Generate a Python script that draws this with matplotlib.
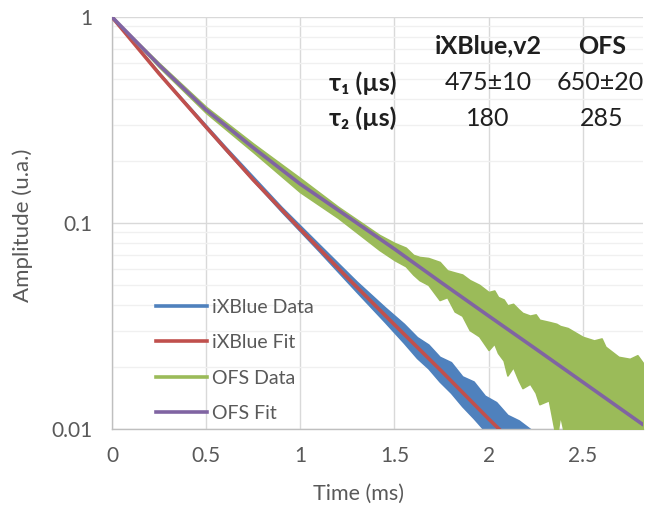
import matplotlib
matplotlib.use("Agg")
import matplotlib.pyplot as plt
from matplotlib.lines import Line2D
from matplotlib.ticker import LogLocator, FixedLocator, NullFormatter

plt.rcParams['font.family'] = ['Lato', 'DejaVu Sans']

# iXBlue fit
t_ix_fit = [0, 0.25, 0.5, 0.75, 1.0, 1.25, 1.5, 1.75, 2.0, 2.1]
ix_fit = [1.0, 0.531, 0.292, 0.162, 0.0933, 0.0543, 0.0321, 0.0191, 0.0112, 0.00912]

# OFS fit
t_ofs_fit = [0, 0.25, 0.5, 0.75, 1.0, 1.25, 1.5, 1.75, 2.0, 2.25, 2.5, 2.82]
ofs_fit = [1.0, 0.585, 0.354, 0.232, 0.1545, 0.1076, 0.0748, 0.0513, 0.0354,
           0.0245, 0.0169, 0.0105]

# iXBlue data, noise envelope (upper / lower)
t_ix_band = [0, 0.3, 0.6, 0.9, 1.1, 1.3, 1.45, 1.55, 1.62, 1.68, 1.74, 1.8,
             1.86, 1.92, 1.98, 2.04, 2.1, 2.16, 2.22, 2.26]
ix_upper = [1.0, 0.476, 0.236, 0.1197, 0.0787, 0.0519, 0.0389, 0.0324, 0.0279,
            0.0257, 0.0224, 0.0211, 0.0180, 0.0170, 0.0145, 0.0135, 0.0117,
            0.0110, 0.0100, 0.0089]
ix_lower = [1.0, 0.467, 0.227, 0.1135, 0.0728, 0.0462, 0.0330, 0.0262, 0.0221,
            0.0197, 0.0170, 0.0150, 0.0129, 0.0113, 0.0098, 0.0085, 0.0073,
            0.0064, 0.0056, 0.005]

# OFS data, noise envelope (upper / lower)
t_ofs_band = [0, 0.25, 0.5, 0.75, 1.0, 1.2, 1.42, 1.5, 1.56, 1.6, 1.633, 1.68,
              1.74, 1.78, 1.82, 1.86, 1.9, 1.95, 2.0, 2.03, 2.05, 2.08, 2.1,
              2.13, 2.16, 2.18, 2.22, 2.25, 2.27, 2.32, 2.36, 2.38, 2.42, 2.5,
              2.56, 2.6, 2.62, 2.69, 2.75, 2.79, 2.82]
ofs_upper = [1.0, 0.598, 0.366, 0.243, 0.165, 0.120, 0.0875, 0.080, 0.0759,
             0.070, 0.0684, 0.0676, 0.0647, 0.0589, 0.0575, 0.0562, 0.0528,
             0.0501, 0.0462, 0.0470, 0.0437, 0.0425, 0.0398, 0.0405, 0.0380,
             0.0366, 0.0355, 0.0360, 0.0339, 0.0331, 0.0324, 0.0316, 0.0309,
             0.0280, 0.0269, 0.0275, 0.0251, 0.0224, 0.0219, 0.0228, 0.0209]
ofs_lower = [1.0, 0.571, 0.342, 0.221, 0.141, 0.106, 0.0740, 0.0661, 0.0617,
             0.0562, 0.0528, 0.0501, 0.0423, 0.0437, 0.0372, 0.0355, 0.0302,
             0.0282, 0.0242, 0.0260, 0.0234, 0.0215, 0.0182, 0.0200, 0.0172,
             0.0158, 0.0166, 0.0150, 0.0132, 0.0138, 0.0089, 0.0117, 0.0079,
             0.0079, 0.0079, 0.0079, 0.0079, 0.0079, 0.0079, 0.0079, 0.0079]

blue, red, green, purple = "#4F81BD", "#C0504D", "#9BBB59", "#8064A2"
grey = "#595959"

fig = plt.figure(figsize=(6.45, 5.08), dpi=100)
ax = fig.add_axes([112 / 645, 1 - 429 / 508, 531 / 645, 412 / 508])

ax.fill_between(t_ix_band, ix_lower, ix_upper, color=blue, lw=1.2, zorder=2)
ax.plot(t_ix_fit, ix_fit, color=red, lw=2.6, solid_capstyle="round", zorder=3)
ax.fill_between(t_ofs_band, ofs_lower, ofs_upper, color=green, lw=1.2, zorder=4)
ax.plot(t_ofs_fit, ofs_fit, color=purple, lw=2.6, solid_capstyle="round", zorder=5)

ax.set_yscale("log")
ax.set_ylim(0.01, 1)
ax.set_xlim(0, 2.82)

ax.xaxis.set_major_locator(FixedLocator([0, 0.5, 1, 1.5, 2, 2.5]))
ax.set_xticklabels(["0", "0.5", "1", "1.5", "2", "2.5"])
ax.yaxis.set_major_locator(FixedLocator([0.01, 0.1, 1]))
ax.set_yticklabels(["0.01", "0.1", "1"])
ax.yaxis.set_minor_locator(LogLocator(base=10, subs=range(2, 10)))
ax.yaxis.set_minor_formatter(NullFormatter())

ax.grid(True, which="major", color="#D9D9D9", lw=1.0, zorder=0)
ax.grid(True, which="minor", axis="y", color="#F0F0F0", lw=1.0, zorder=0)
ax.set_axisbelow(True)

for s in ["top", "right"]:
    ax.spines[s].set_visible(False)
for s in ["left", "bottom"]:
    ax.spines[s].set_color("#BFBFBF")
    ax.spines[s].set_linewidth(1.0)

ax.tick_params(axis="both", which="both", length=0, labelsize=15, labelcolor=grey)
ax.tick_params(axis="y", pad=14)
ax.tick_params(axis="x", pad=12)

ax.set_xlabel("Time (ms)", fontsize=15.5, color=grey)
ax.xaxis.set_label_coords(0.465, -0.133)
ax.set_ylabel("Amplitude (u.a.)", fontsize=16, color=grey)
ax.yaxis.set_label_coords(-0.149, 0.495)

handles = [Line2D([], [], color=blue, lw=2.6),
           Line2D([], [], color=red, lw=2.6),
           Line2D([], [], color=green, lw=2.6),
           Line2D([], [], color=purple, lw=2.6)]
labels = ["iXBlue Data", "iXBlue Fit", "OFS Data", "OFS Fit"]
leg = ax.legend(handles, labels, loc="lower left", bbox_to_anchor=(0.083, 0.017),
                frameon=False, fontsize=14, handlelength=2.6, handletextpad=0.3,
                labelspacing=0.95, borderpad=0, borderaxespad=0)
for txt in leg.get_texts():
    txt.set_color(grey)

# fit parameter table
dark = "#1F1F1F"
def ftext(x, y, s, **kw):
    fig.text(x / 645, 1 - y / 508, s, va="center", fontsize=18, color=dark, **kw)

ftext(488, 46, "iXBlue,v2", ha="center", fontweight="bold")
ftext(602, 46, "OFS", ha="center", fontweight="bold")
ftext(396, 83, "τ₁ (µs)", ha="right", fontweight="bold")
ftext(396, 118, "τ₂ (µs)", ha="right", fontweight="bold")
ftext(488, 83, "475±10", ha="center")
ftext(600, 83, "650±20", ha="center")
ftext(488, 118, "180", ha="center")
ftext(602, 118, "285", ha="center")

fig.savefig("out.png", dpi=100)
